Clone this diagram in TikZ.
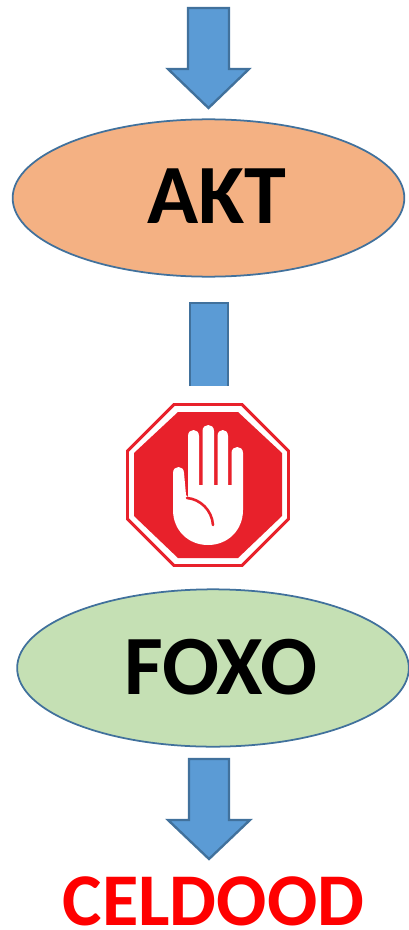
\documentclass[tikz,border=0pt]{standalone}
\usepackage{fontspec}
\setmainfont{Carlito}
\usepackage{tikz}
\usetikzlibrary{shapes.geometric}
\definecolor{ArrowBlue}{HTML}{5B9BD5}
\definecolor{EdgeBlue}{HTML}{41719C}
\definecolor{AktOrange}{HTML}{F4B183}
\definecolor{FoxoGreen}{HTML}{C5E0B4}
\definecolor{StopRed}{HTML}{E8212B}
\begin{document}
\begin{tikzpicture}[
    x=0.03cm, y=-0.03cm,
    blob/.style={draw=EdgeBlue, line width=1.5pt, ellipse, minimum width=11.75cm, minimum height=4.72cm, inner sep=0pt},
    biglabel/.style={font=\fontsize{72}{72}\selectfont\bfseries, inner sep=0pt},
    blockarrow/.style={draw=EdgeBlue, fill=ArrowBlue, line width=2pt, line join=miter},
    signedge/.style={draw=StopRed, fill=white, line width=2.5pt},
    signface/.style={fill=StopRed},
    palm/.style={fill=white},
    crease/.style={draw=StopRed, line width=2.2pt, line cap=round}
]
\useasboundingbox (0,0) rectangle (408,930);
\node[blob, fill=AktOrange] (akt) at (208.5,198) {};
\node[blob, fill=FoxoGreen] (foxo) at (213,668) {};
\node[biglabel] (akttext) at (217,196) {AKT};
\node[biglabel] (foxotext) at (221,667) {FOXO};
\node[biglabel, text=red, font=\fontsize{63.5}{64}\selectfont\bfseries] (celdood) at (213.5,901) {CELDOOD};
% arrows
\draw[blockarrow] (188,8) -- (229,8) -- (229,69) -- (249,69) -- (208.5,108) -- (168,69) -- (188,69) -- cycle;
\fill[ArrowBlue] (190,303) rectangle (228,386);
\draw[EdgeBlue, line width=2pt] (190,386) -- (190,303) -- (228,303) -- (228,386);
\draw[blockarrow] (189,759) -- (229,759) -- (229,820) -- (250,820) -- (209,859) -- (168,820) -- (189,820) -- cycle;
% stop sign
\draw[signedge] (174,404.5) -- (242,404.5) -- (288.5,451) -- (288.5,519) -- (242,565.5) -- (174,565.5) -- (127.5,519) -- (127.5,451) -- cycle;
\fill[signface] (178,412) -- (238,412) -- (282,453) -- (282,516) -- (238,558) -- (178,558) -- (134,516) -- (134,453) -- cycle;
\fill[palm] (173,473) .. controls (173,465) and (184,465) .. (184,473) -- (186,495) -- (188,497)
  -- (188,436) .. controls (188,428) and (199,428) .. (199,436) -- (199,485) -- (202.5,485)
  -- (202.5,431) .. controls (202.5,423) and (214,423) .. (214,431) -- (214,485) -- (217.5,485)
  -- (217.5,436) .. controls (217.5,428) and (228,428) .. (228,436) -- (228,485) -- (231.5,485)
  -- (231.5,453) .. controls (231.5,445) and (243,445) .. (243,453) -- (243,510)
  .. controls (243,530) and (228,545) .. (208,545) .. controls (188,545) and (173,530) .. (173,510) -- cycle;
\draw[crease] (187,498) .. controls (200,499) and (212,510) .. (213,525);
\end{tikzpicture}
\end{document}
